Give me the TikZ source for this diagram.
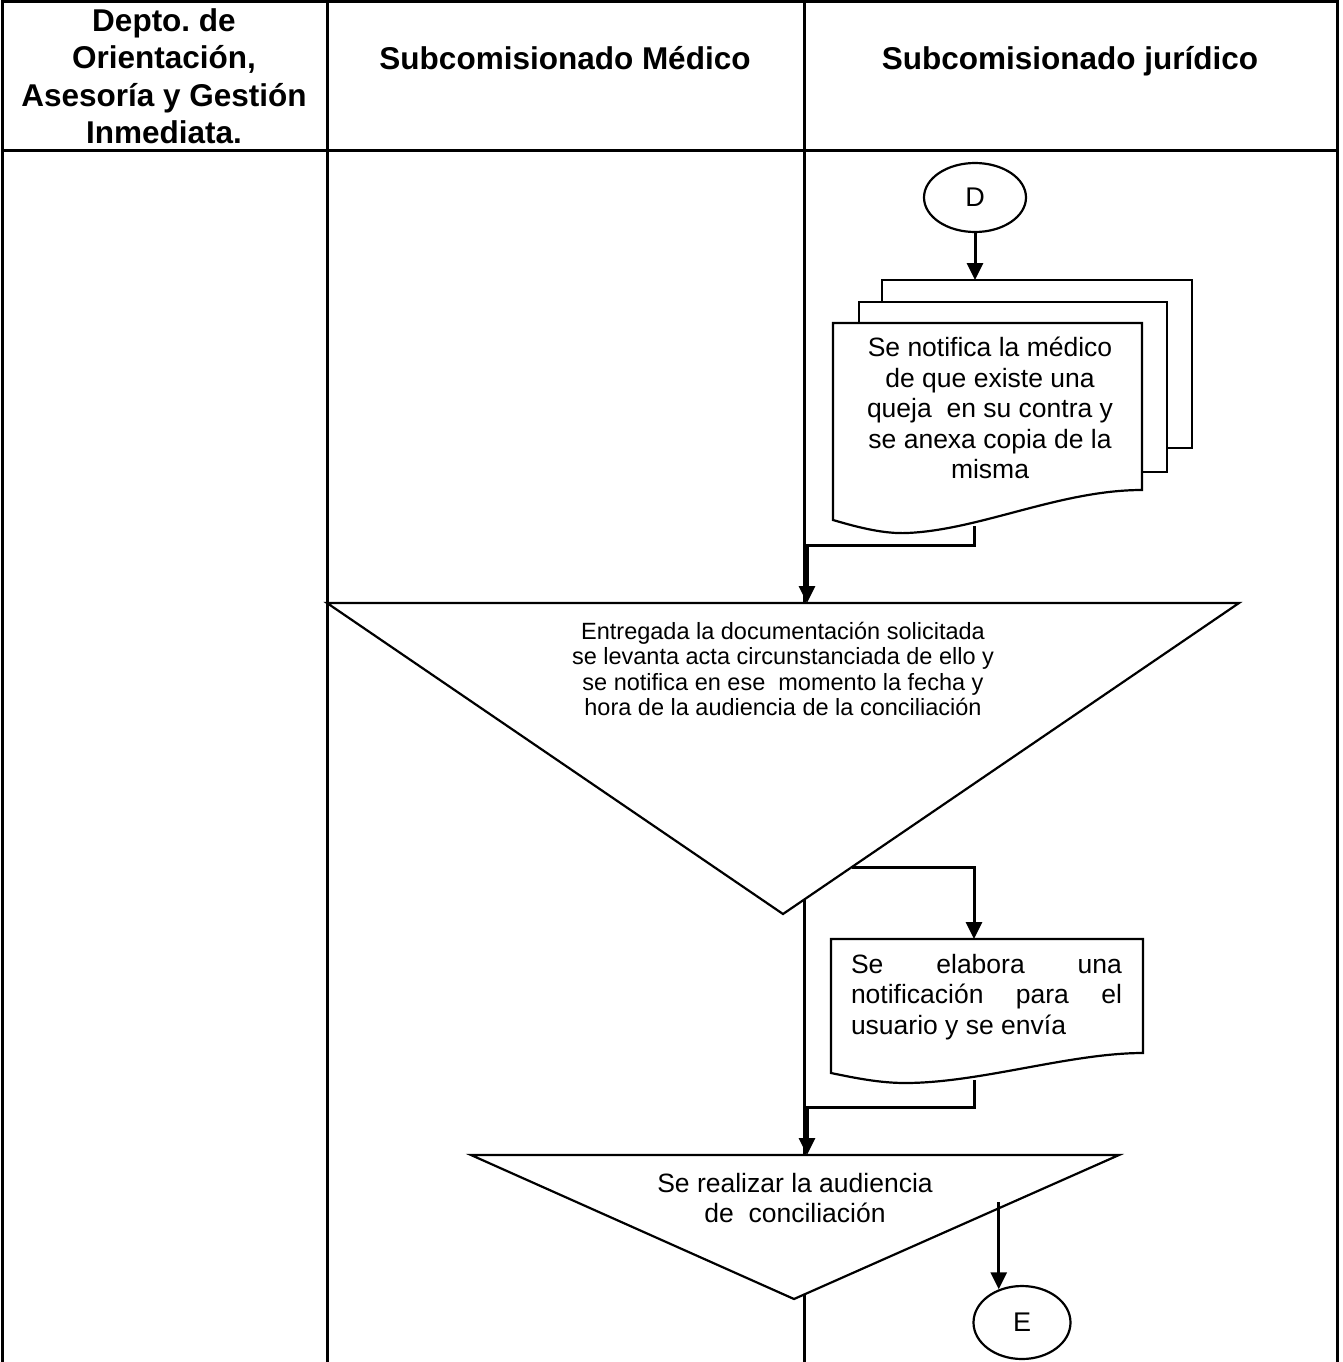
\documentclass[tikz,border=0pt]{standalone}
\usepackage{fontspec}
\setmainfont{Liberation Sans}
\usetikzlibrary{arrows.meta,shapes.geometric}
\frenchspacing

\begin{document}
\begin{tikzpicture}[x=1pt,y=-1pt,
  frame/.style={line width=3pt},
  outline/.style={draw, line width=2.2pt, fill=white},
  flow/.style={line width=3pt, -{Triangle[length=17pt,width=16pt]}},
  connector/.style={draw, ellipse, line width=2.2pt, fill=white, inner sep=0pt,
    font=\fontsize{27}{31}\selectfont},
  head/.style={font=\fontsize{31.5}{37.5}\selectfont\bfseries, align=center},
  body/.style={font=\fontsize{26.5}{30.5}\selectfont, align=center},
  small/.style={font=\fontsize{23.5}{25.5}\selectfont, align=center}]

\useasboundingbox (0,0) rectangle (1342,1362);

% swimlane table
\draw[frame] (2,1362) -- (2,2) -- (1337,2) -- (1337,1362);
\draw[frame] (2,150) -- (1337,150);
\draw[frame] (327,2) -- (327,1362);
\draw[frame] (804,2) -- (804,1362);

\node[head] (h1) at (164,76) {Depto. de\\Orientación,\\Asesoría y Gestión\\Inmediata.};
\node[head, anchor=base] (h2) at (565,70) {Subcomisionado Médico};
\node[head, anchor=base] (h3) at (1070,70) {Subcomisionado jurídico};

% off-page connector D
\node[connector, minimum width=102pt, minimum height=69pt] (D) at (975,197.5) {D};

% multiple document
\coordinate (mdTop) at (975,280);
\draw[outline] (882,280) rectangle (1192,448);
\draw[outline] (859,302) rectangle (1167,472);
\draw[outline] (833,323) -- (1142,323) -- (1142,490)
  .. controls (1060,490) and (980,530) .. (907,533)
  .. controls (885,534) and (860,528) .. (833,520) -- cycle;
\node[body] (notif) at (990,408)
  {Se notifica la médico\\de que existe una\\queja~ en su contra y\\se anexa copia de la\\misma};
\coordinate (mdOut) at (974,526);

% first merge triangle
\draw[outline] (327,603) -- (1239,603) -- (783,914) -- cycle;
\coordinate (triAin) at (807,603);
\coordinate (triAout) at (852,867);
\node[small] (acta) at (783,669)
  {Entregada la documentación solicitada\\se levanta acta circunstanciada de ello y\\se notifica en ese~ momento la fecha y\\hora de la audiencia de la conciliación};

% single document
\draw[outline] (831,939) -- (1143,939) -- (1143,1053)
  .. controls (1070,1053) and (980,1083) .. (905,1083)
  .. controls (880,1083) and (855,1078) .. (831,1073) -- cycle;
\coordinate (docTop) at (974,939);
\coordinate (docOut) at (974,1080);
\node[body, text width=271pt, align=justify, inner sep=0pt] (envio) at (986.5,997)
  {Se elabora una\linebreak notificación para el\linebreak usuario y se envía};

% second merge triangle
\draw[outline] (471,1155) -- (1119,1155) -- (794,1299) -- cycle;
\coordinate (triBin) at (807,1155);
\node[body] (audiencia) at (795,1198) {Se realizar la audiencia\\de~ conciliación};

% off-page connector E
\node[connector, minimum width=97pt, minimum height=73pt] (E) at (1022,1322.5) {E};
\coordinate (lvl) at (0,1202);
\coordinate (triBout) at (E.125 |- lvl);

% flow lines
\coordinate (j1) at (974,545);
\coordinate (j1b) at (807,545);
\coordinate (j2) at (974,867);
\coordinate (j3) at (974,1107);
\coordinate (j3b) at (807,1107);

\draw[flow] (D) -- (mdTop);
\draw[flow] (mdOut) -- (j1) -- (j1b) -- (triAin);
\draw[flow] (triAout) -- (j2) -- (docTop);
\draw[flow] (docOut) -- (j3) -- (j3b) -- (triBin);
\draw[flow] (triBout) -- (E.125);
\end{tikzpicture}
\end{document}
